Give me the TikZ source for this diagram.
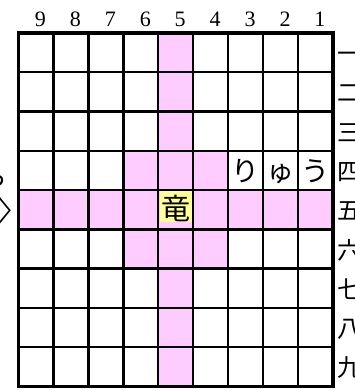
\documentclass[tikz,border=0pt]{standalone}
\usepackage{fontspec}
\newfontfamily\jp{Noto Sans CJK JP}
\newfontfamily\digfont{Liberation Serif}
\definecolor{pinkc}{RGB}{255,204,255}
\definecolor{yelc}{RGB}{255,255,153}
\begin{document}
\begin{tikzpicture}[x=1pt,y=-1pt,
  gridline/.style={line width=2.4pt},
  frameline/.style={line width=3.3pt},
  kana/.style={font=\jp\fontsize{28pt}{28pt}\selectfont, inner sep=0pt},
  ryubox/.style={font=\jp\fontsize{29pt}{29pt}\selectfont, fill=yelc, inner xsep=1.5pt, inner ysep=0pt, text height=29pt, text depth=2.5pt},
  rowlabel/.style={font=\jp\fontsize{24pt}{24pt}\selectfont, anchor=base west, inner sep=0pt},
  sidelabel/.style={font=\jp\fontsize{26pt}{26pt}\selectfont, anchor=base east, inner sep=0pt},
  collabel/.style={font=\digfont\fontsize{22pt}{22pt}\selectfont, anchor=base, inner sep=0pt}]
\def\L{18.5}\def\T{33}\def\W{34.94}\def\H{39.28}
\useasboundingbox (0,0) rectangle (354,390);
\fill[white] (0,0) rectangle (354,390);
% pink cells (dragon moves)
\foreach \j in {0,...,8} \fill[pinkc] ({\L+4*\W},{\T+\j*\H}) rectangle ++(\W,\H);
\foreach \i in {0,...,8} \fill[pinkc] ({\L+\i*\W},{\T+4*\H}) rectangle ++(\W,\H);
\foreach \i/\j in {3/3,5/3,3/5,5/5} \fill[pinkc] ({\L+\i*\W},{\T+\j*\H}) rectangle ++(\W,\H);
% dragon
\node[ryubox, anchor=north] (ryu) at ({\L+4.5*\W},{\T+4*\H}) {竜};
% kana
\node[kana, anchor=base] (k1) at ({\L+6.5*\W},181.5) {り};
\node[kana, anchor=base] (k2) at ({\L+7.5*\W},181.5) {ゅ};
\node[kana, anchor=base] (k3) at ({\L+8.5*\W},181.5) {う};
% grid
\foreach \i in {1,...,8} \draw[gridline] ({\L+\i*\W},\T) -- ({\L+\i*\W},{\T+9*\H});
\foreach \j in {1,...,8} \draw[gridline] (\L,{\T+\j*\H}) -- ({\L+9*\W},{\T+\j*\H});
\draw[frameline] (\L,\T) rectangle ({\L+9*\W},{\T+9*\H});
% column labels
\foreach \i in {0,...,8} {
  \pgfmathtruncatemacro\n{9-\i}
  \node[collabel] (c\n) at ({\L+(\i+0.5)*\W+4.5},27) {\n};
}
% row labels
\foreach \j/\t in {0/一,1/二,2/三,3/四,4/五,5/六,6/七,7/八,8/九}
  \node[rowlabel] (r\j) at (337,{\T+(\j+0.5)*\H+10}) {\t};
% left side fragments
\node[sidelabel] (sa) at (8,186) {ら};
\node[font=\jp\fontsize{28pt}{28pt}\selectfont, inner sep=0pt, anchor=east] (sb) at (12.8,211) {\scalebox{0.55}[1.3]{＞}};
\end{tikzpicture}
\end{document}
